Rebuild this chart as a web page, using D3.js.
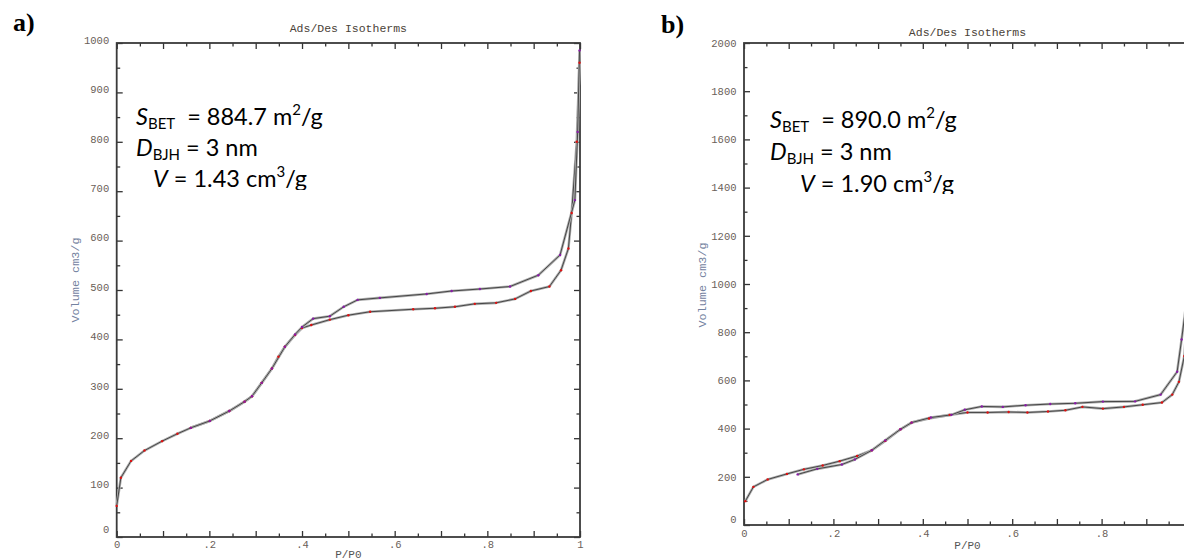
<!DOCTYPE html>
<html><head><meta charset="utf-8">
<script src="https://cdn.jsdelivr.net/npm/d3@7"></script>
<style>body{margin:0;background:#fff}svg{display:block}text{white-space:pre}</style>
</head><body>
<svg id="c" width="1184" height="560"></svg>
<script>
// ---- data ----
const xTickValues = [0, 0.2, 0.4, 0.6, 0.8, 1];
const xTickLabels = ["0", ".2", ".4", ".6", ".8", "1"];
const yTicksA = [0, 100, 200, 300, 400, 500, 600, 700, 800, 900, 1000];
const yTicksB = [0, 200, 400, 600, 800, 1000, 1200, 1400, 1600, 1800, 2000];

// panel a) adsorption (lower branch, red points)
const adsA_P = [0, 0.009, 0.031, 0.06, 0.098, 0.131, 0.16, 0.201, 0.243, 0.276, 0.292, 0.313, 0.335, 0.349, 0.363, 0.385, 0.40, 0.42, 0.46, 0.50, 0.547, 0.64, 0.687, 0.73, 0.773, 0.819, 0.86, 0.894, 0.934, 0.959, 0.975, 0.982, 0.993, 0.999];
const adsA_V = [63, 120, 154, 175, 194, 209, 221, 235, 255, 274, 285, 312, 341, 365, 385, 409, 423, 429, 440, 449, 456, 461, 463, 466, 472, 474, 482, 498, 507, 540, 584, 656, 800, 960];
// panel a) desorption (upper branch, purple points)
const desA_P = [0.999, 0.995, 0.989, 0.957, 0.91, 0.849, 0.784, 0.723, 0.669, 0.568, 0.52, 0.49, 0.46, 0.424, 0.40, 0.385, 0.363, 0.335, 0.313, 0.292, 0.276, 0.243, 0.201, 0.16];
const desA_V = [985, 820, 682, 571, 530, 507, 502, 498, 492, 484, 480, 466, 447, 442, 425, 410, 385, 341, 312, 285, 274, 255, 235, 221];

// panel b) adsorption
const adsB_P = [0.003, 0.021, 0.053, 0.096, 0.134, 0.176, 0.214, 0.253, 0.286, 0.316, 0.35, 0.375, 0.414, 0.46, 0.5, 0.545, 0.592, 0.634, 0.68, 0.719, 0.757, 0.803, 0.85, 0.892, 0.935, 0.958, 0.973, 0.985, 0.995];
const adsB_V = [99, 158, 189, 212, 231, 247, 265, 286, 310, 349, 397, 425, 442, 457, 467, 467, 469, 467, 471, 476, 490, 483, 490, 499, 508, 541, 594, 700, 950];
// panel b) desorption
const desB_P = [0.995, 0.979, 0.969, 0.932, 0.875, 0.803, 0.741, 0.685, 0.63, 0.579, 0.532, 0.494, 0.464, 0.418, 0.375, 0.35, 0.316, 0.286, 0.248, 0.219, 0.164, 0.12];
const desB_V = [1000, 770, 636, 541, 513, 512, 505, 502, 497, 490, 492, 478, 457, 446, 425, 397, 351, 310, 272, 251, 233, 210];

const titleText = "Ads/Des Isotherms";
const xAxisTitle = "P/P0";
const yAxisTitle = "Volume cm3/g";
const annotA = {S: "884.7", D: "3", V: "1.43"};
const annotB = {S: "890.0", D: "3", V: "1.90"};

// ---- layout ----
const W = 1184;
const svg = d3.select("#c");
const panels = [
  {letter: "a)", letterX: 13, letterY: 31, left: 116.7, right: 580, top: 43, bottom: 537, ymax: 1000, yTicks: yTicksA,
   ads: [adsA_P, adsA_V], des: [desA_P, desA_V], annot: annotA, ax: 136, ay: 125, dy: 31, vIndent: 17, clipY: 190,
   titleY: 32, yTitleX: 75, yTitleY: 280, xTitleY: 557.5, ylabDy: -3, zeroDy: -8, xlabPad: 4},
  {letter: "b)", letterX: 661, letterY: 33, left: 744, right: 1191, top: 43, bottom: 525, ymax: 2000, yTicks: yTicksB,
   ads: [adsB_P, adsB_V], des: [desB_P, desB_V], annot: annotB, ax: 770, ay: 128, dy: 32, vIndent: 30, clipY: 194,
   titleY: 36, yTitleX: 702, yTitleY: 285, xTitleY: 549, ylabDy: 0, zeroDy: -6, xlabPad: 5}
];

panels.forEach((p, pi) => {
  const g = svg.append("g");
  const x = d3.scaleLinear().domain([0, 1]).range([p.left, p.right]);
  const y = d3.scaleLinear().domain([0, p.ymax]).range([p.bottom, p.top]);
  const xMajor = d3.range(0, 1.0001, 0.1), xMinor = d3.range(0.05, 1, 0.1);
  const yStep = p.ymax / 10;
  const yMajor = d3.range(0, p.ymax + 1, yStep), yMinor = d3.range(yStep / 2, p.ymax, yStep);

  function tickAxis(axisFn, scale, vals, size, tr) {
    const a = g.append("g").attr("transform", tr)
      .call(axisFn(scale).tickValues(vals).tickSize(size).tickFormat(""));
    a.select(".domain").remove();
    a.selectAll(".tick line").attr("stroke", "#333").attr("stroke-width", 1.3);
  }
  tickAxis(d3.axisBottom, x, xMajor, -6, `translate(0,${p.bottom})`);
  tickAxis(d3.axisBottom, x, xMinor, -3.5, `translate(0,${p.bottom})`);
  tickAxis(d3.axisTop, x, xMajor, -6, `translate(0,${p.top})`);
  tickAxis(d3.axisTop, x, xMinor, -3.5, `translate(0,${p.top})`);
  tickAxis(d3.axisLeft, y, yMajor, -6, `translate(${p.left},0)`);
  tickAxis(d3.axisLeft, y, yMinor, -3.5, `translate(${p.left},0)`);
  tickAxis(d3.axisRight, y, yMajor, -6, `translate(${p.right},0)`);
  tickAxis(d3.axisRight, y, yMinor, -3.5, `translate(${p.right},0)`);

  // frame
  g.append("rect").attr("x", p.left).attr("y", p.top)
    .attr("width", p.right - p.left).attr("height", p.bottom - p.top)
    .attr("fill", "none").attr("stroke", "#3a3a3a").attr("stroke-width", 1.8);

  // tick labels (only those that fall inside the picture)
  const visX = xTickValues.map((v, i) => [v, xTickLabels[i]]).filter(d => x(d[0]) < W - 4);
  const xl = g.append("g").attr("transform", `translate(0,${p.bottom})`)
    .call(d3.axisBottom(x).tickValues(visX.map(d => d[0])).tickFormat((d, i) => visX[i][1]).tickSize(0).tickPadding(p.xlabPad));
  xl.select(".domain").remove();
  xl.selectAll("text").attr("font-family", "Liberation Mono").attr("font-size", 10.5).attr("fill", "#6a6058");

  const yl = g.append("g").attr("transform", `translate(${p.left},0)`)
    .call(d3.axisLeft(y).tickValues(p.yTicks).tickFormat(d3.format("d")).tickSize(0).tickPadding(7.5));
  yl.select(".domain").remove();
  yl.selectAll("text").attr("font-family", "Liberation Mono").attr("font-size", 10.5).attr("fill", "#6a6058")
    .attr("transform", d => `translate(0,${d === 0 ? p.zeroDy : p.ylabDy})`);

  // titles
  const cx = (p.left + p.right) / 2;
  g.append("text").attr("x", cx).attr("y", p.titleY).attr("text-anchor", "middle")
    .attr("font-family", "Liberation Mono").attr("font-size", 11.5).attr("fill", "#4a4238").text(titleText);
  g.append("text").attr("x", cx).attr("y", p.xTitleY).attr("text-anchor", "middle")
    .attr("font-family", "Liberation Mono").attr("font-size", 11).attr("fill", "#555").text(xAxisTitle);
  g.append("text").attr("transform", `translate(${p.yTitleX},${p.yTitleY}) rotate(-90)`)
    .attr("text-anchor", "middle").attr("dy", "0.35em")
    .attr("font-family", "Liberation Mono").attr("font-size", 11.8).attr("fill", "#7482a0").text(yAxisTitle);

  // panel letter
  svg.append("text").attr("x", p.letterX).attr("y", p.letterY)
    .attr("font-family", "Liberation Serif").attr("font-weight", "bold").attr("font-size", 26)
    .attr("fill", "#000").text(p.letter);

  // curves
  const clipId = "plotclip" + pi;
  svg.append("clipPath").attr("id", clipId).append("rect")
    .attr("x", p.left - 2).attr("y", p.top - 30).attr("width", p.right - p.left + 4).attr("height", p.bottom - p.top + 32);
  const line = d3.line().x(d => x(d[0])).y(d => y(d[1]));
  const series = [
    {pts: d3.zip(p.ads[0], p.ads[1]), dot: "#e01010"},
    {pts: d3.zip(p.des[0], p.des[1]), dot: "#8a1aa8"}
  ];
  const cg = svg.append("g").attr("clip-path", `url(#${clipId})`);
  series.forEach(s => {
    cg.append("path").attr("d", line(s.pts)).attr("fill", "none").attr("stroke", "#b0b0b0").attr("stroke-width", 2.6).attr("stroke-linejoin", "round");
    cg.append("path").attr("d", line(s.pts)).attr("fill", "none").attr("stroke", "#3a3a3a").attr("stroke-width", 0.9).attr("stroke-linejoin", "round");
  });
  series.forEach(s => {
    cg.selectAll(null).data(s.pts).enter().append("circle")
      .attr("cx", d => x(d[0])).attr("cy", d => y(d[1])).attr("r", 1.2).attr("fill", s.dot);
  });

  // annotation
  const af = "Lato", fs = 23.5, sub = 15;
  const ag = svg.append("g").attr("font-family", af).attr("font-size", fs).attr("fill", "#000");
  const t1 = ag.append("text").attr("x", p.ax).attr("y", p.ay);
  t1.append("tspan").attr("font-style", "italic").text("S");
  t1.append("tspan").attr("font-size", sub).attr("dy", 4).text("BET");
  t1.append("tspan").attr("dy", -4).text("  = " + p.annot.S + " m");
  t1.append("tspan").attr("font-size", sub).attr("dy", -10).text("2");
  t1.append("tspan").attr("dy", 10).text("/g");
  const t2 = ag.append("text").attr("x", p.ax).attr("y", p.ay + p.dy);
  t2.append("tspan").attr("font-style", "italic").text("D");
  t2.append("tspan").attr("font-size", sub).attr("dy", 4).text("BJH");
  t2.append("tspan").attr("dy", -4).text(" = " + p.annot.D + " nm");
  const cid = "txtclip" + pi;
  svg.append("clipPath").attr("id", cid).append("rect")
    .attr("x", p.ax - 10).attr("y", p.ay).attr("width", 300).attr("height", p.clipY - p.ay);
  const t3 = ag.append("text").attr("x", p.ax + p.vIndent).attr("y", p.ay + 2 * p.dy).attr("clip-path", `url(#${cid})`);
  t3.append("tspan").attr("font-style", "italic").text("V");
  t3.append("tspan").text(" = " + p.annot.V + " cm");
  t3.append("tspan").attr("font-size", sub).attr("dy", -10).text("3");
  t3.append("tspan").attr("dy", 10).text("/g");
});
</script>
</body></html>
